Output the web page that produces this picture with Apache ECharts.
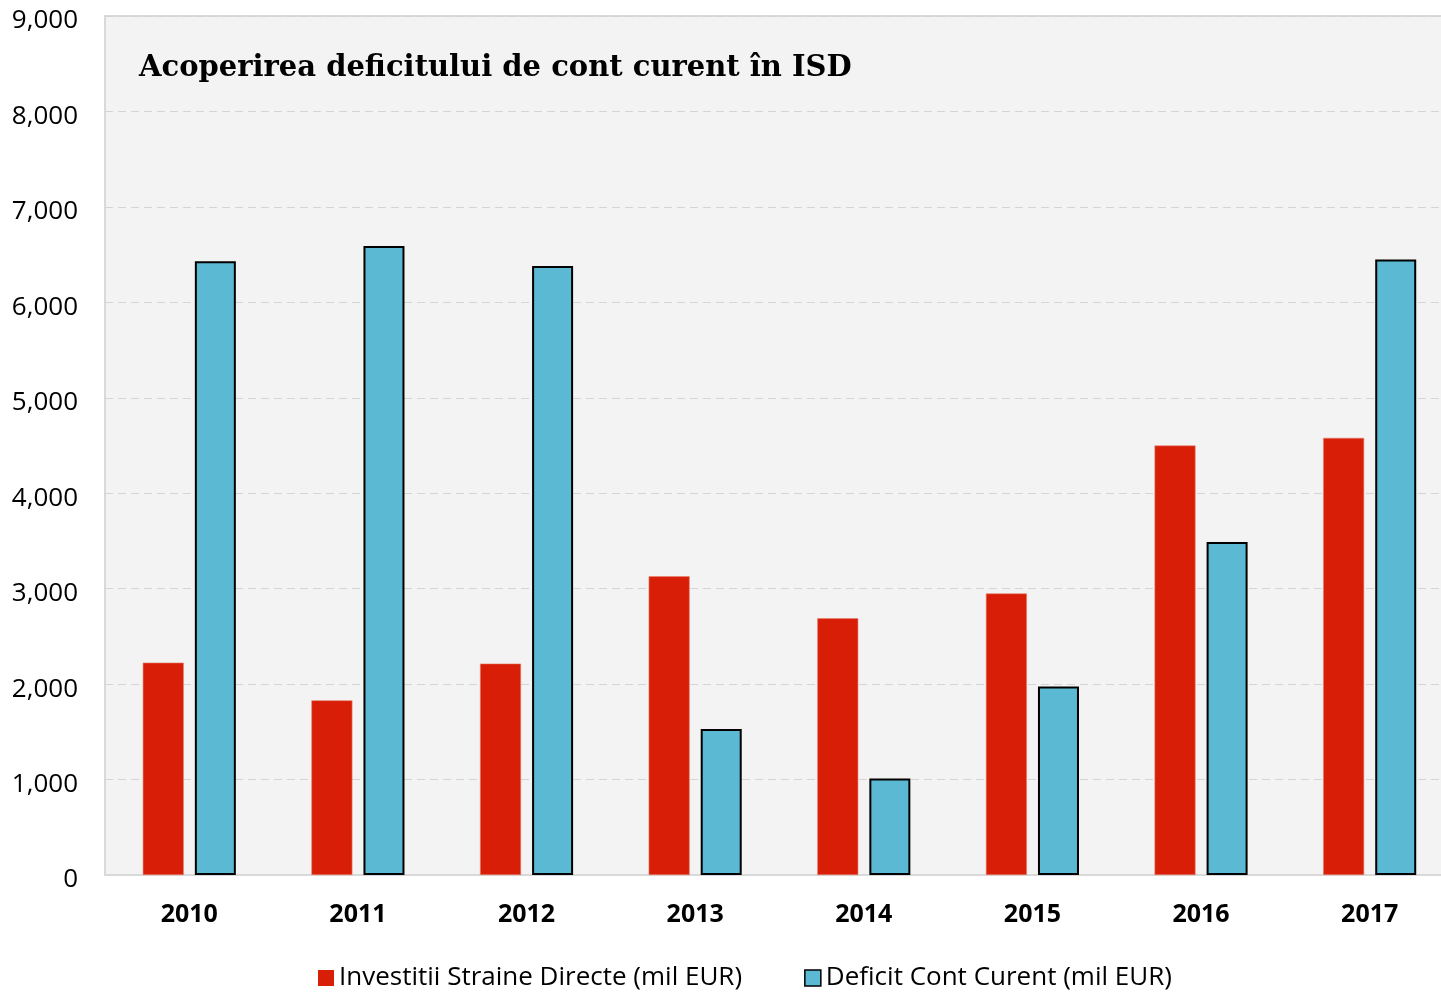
<!DOCTYPE html>
<html><head><meta charset="utf-8">
<script src="https://cdn.jsdelivr.net/npm/echarts@6/dist/echarts.min.js"></script>
<style>html,body{margin:0;padding:0;background:#fff}#c{width:1441px;height:992px}</style>
</head><body><div id="c"></div>
<script>
const categories = ['2010','2011','2012','2013','2014','2015','2016','2017'];
const isdValues = [2225, 1830, 2215, 3130, 2690, 2950, 4500, 4580];
const deficitValues = [6430, 6590, 6380, 1530, 1010, 1975, 3490, 6450];
const seriesNames = ['Investitii Straine Directe (mil EUR)', 'Deficit Cont Curent (mil EUR)'];
const titleText = 'Acoperirea deficitului de cont curent în ISD';

const chart = echarts.init(document.getElementById('c'), null, {renderer:'canvas'});
chart.setOption({
  animation: false,
  backgroundColor: '#ffffff',
  title: {
    text: titleText, left: 134, top: 49,
    textStyle: {fontFamily: 'DejaVu Serif', fontWeight: 'bold', fontSize: 29, color: '#000'}
  },
  legend: {
    top: 960, left: 313, itemGap: 62, itemWidth: 16, itemHeight: 16,
    textStyle: {fontFamily: 'Open Sans', fontSize: 26, color: '#000'},
    data: [
      {name: seriesNames[0], icon: 'rect', itemStyle: {color: '#d81e07', borderWidth: 0}},
      {name: seriesNames[1], icon: 'rect', itemStyle: {color: '#5bb9d3', borderColor: '#000', borderWidth: 1.5}}
    ]
  },
  grid: {
    left: 105, width: 1349, top: 16, height: 859, containLabel: false,
    outerBoundsMode: 'none',
    show: true, backgroundColor: '#f3f3f3', borderColor: '#d9d9d9', borderWidth: 2
  },
  xAxis: {
    type: 'category', data: categories,
    axisLine: {show: true, lineStyle: {color: '#d9d9d9', width: 2}},
    axisTick: {show: false},
    axisLabel: {margin: 27, fontFamily: 'Open Sans', fontWeight: 'bold', fontSize: 25, color: '#000'}
  },
  yAxis: {
    type: 'value', min: 0, max: 9000, interval: 1000,
    axisLine: {show: false}, axisTick: {show: false},
    splitLine: {show: true, lineStyle: {color: '#d4d4d4', type: [8, 5], width: 1}},
    axisLabel: {margin: 27, fontFamily: 'Open Sans', fontSize: 26, color: '#000',
      formatter: v => '{a|' + v.toLocaleString('en-US') + '}',
      rich: {a: {fontFamily: 'Open Sans', fontSize: 26, color: '#000', padding: [10, 0, 0, 0]}}}
  },
  series: [
    {name: seriesNames[0], type: 'bar', data: isdValues, barWidth: 41, barGap: '27%',
     itemStyle: {color: '#d81e07', borderColor: '#e8806f', borderWidth: 0.6}},
    {name: seriesNames[1], type: 'bar', data: deficitValues, barWidth: 41,
     itemStyle: {color: '#5bb9d3', borderColor: '#000', borderWidth: 2}}
  ]
});
</script></body></html>
